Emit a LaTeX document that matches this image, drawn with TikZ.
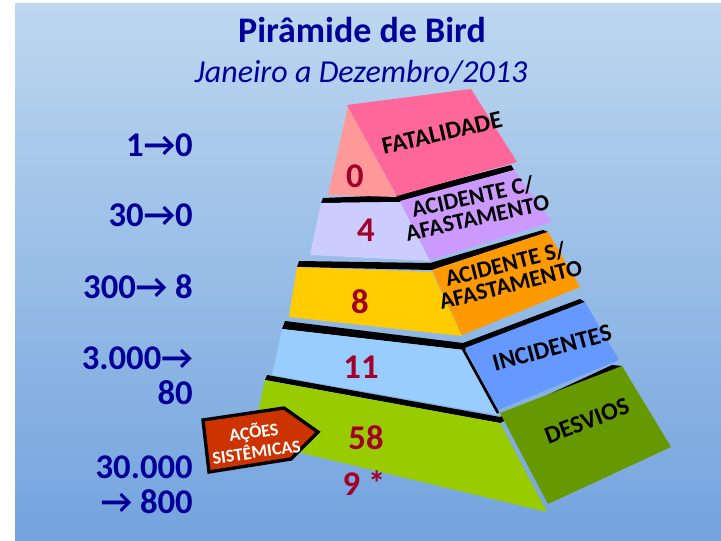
\documentclass[tikz,border=0pt]{standalone}
\usepackage{fontspec}
\setmainfont{Carlito}
\definecolor{bgtop}{HTML}{BDD7EF}
\definecolor{bgbot}{HTML}{73A3DE}
\definecolor{navy}{HTML}{000099}
\definecolor{numred}{HTML}{A0002A}
\definecolor{acred}{HTML}{CC3300}

\tikzstyle{band}=[fill=black]
\tikzstyle{tally}=[
    inner sep=0pt,
    text=numred,
    font=\bfseries\fontsize{26}{26}\selectfont
]
\tikzstyle{ratiotext}=[
    anchor=east,
    align=right,
    inner sep=0pt,
    text=navy,
    font=\bfseries\fontsize{26}{26}\selectfont
]
\tikzstyle{sidetext}=[
    align=center,
    inner sep=0pt,
    text=black,
    font=\bfseries\fontsize{18.5}{20}\selectfont
]
\tikzstyle{sidesmall}=[
    sidetext,
    font=\bfseries\fontsize{17.5}{16}\selectfont
]

\begin{document}
\begin{tikzpicture}[x=0.75pt,y=-0.75pt]
	\useasboundingbox (0,0) rectangle (721,541);
	\fill[top color=bgtop, bottom color=bgbot] (15,4) rectangle (721,541);

	% TITLE
	\node (title) [text=navy, font=\bfseries\fontsize{27}{30}\selectfont] at (362,30) {Pirâmide de Bird};
	\node (period) [text=navy, font=\itshape\fontsize{24}{28}\selectfont] at (361,72) {Janeiro a Dezembro/2013};

	% BLACK BANDS (top faces)
	\fill[band] (323,198) -- (397,195) -- (511,165) -- (514,170) -- (400,202) -- (321,203) -- cycle;
	\fill[band] (299,261) -- (430,263) -- (543,230) -- (548,232) -- (432,270) -- (297,267) -- cycle;
	\fill[band] (285,321) -- (463,343) -- (580,299) -- (585,302) -- (465,350) -- (282,329) -- cycle;
	\fill[band] (267,375) -- (500,417) -- (612,365) -- (622,366) -- (500,423) -- (265,380) -- cycle;

	% FATALIDADE LAYER
	\fill[fill={rgb,255:red,255;green,153;blue,153}] (348,106) -- (397,197) -- (328,195) -- cycle;
	\fill[fill={rgb,255:red,255;green,102;blue,153}] (347,105) -- (471,89) -- (517,162) -- (397,196) -- cycle;
	% ACIDENTE C/ AFASTAMENTO LAYER
	\fill[fill={rgb,255:red,204;green,204;blue,255}] (321,203) -- (400,202) -- (430,261) -- (310,255) -- cycle;
	\fill[fill={rgb,255:red,204;green,153;blue,255}] (400,201) -- (514,170) -- (552,222) -- (430,260) -- cycle;
	% ACIDENTE S/ AFASTAMENTO LAYER
	\fill[fill={rgb,255:red,255;green,204;blue,0}] (297,267) -- (432,272) -- (462,336) -- (289,317) -- cycle;
	\fill[fill={rgb,255:red,255;green,153;blue,0}] (432,270) -- (548,232) -- (580,287) -- (462,335) -- cycle;
	% INCIDENTES LAYER
	\fill[fill={rgb,255:red,153;green,204;blue,255}] (282,329) -- (463,350) -- (498,415) -- (272,375) -- cycle;
	\fill[fill={rgb,255:red,102;green,153;blue,255}] (465,348) -- (585,302) -- (619,360) -- (498,410) -- cycle;
	\draw[line width=2pt] (463,349) -- (498,413);
	% DESVIOS LAYER
	\fill[fill={rgb,255:red,153;green,204;blue,0}] (265,380) -- (500,423) -- (547,512) -- (252,441) -- cycle;
	\fill[fill={rgb,255:red,102;green,153;blue,0}] (500,413) -- (622,366) -- (671,447) -- (548,504) -- cycle;

	% COUNTS
	\node (n_fat) [tally] at (355,176) {0};
	\node (n_acc) [tally] at (366,230) {4};
	\node (n_acs) [tally] at (360,302) {8};
	\node (n_inc) [tally] at (361,367) {11};
	\node (n_des) [tally] at (366,438) {58};
	\node (n_act) [tally] at (364,483) {9 *};

	% SIDE LABELS
	\node (l_fat) [sidetext, rotate=13] at (442,133) {FATALIDADE};
	\node (l_acc) [sidesmall, rotate=12.5] at (475,207) {ACIDENTE C/\\AFASTAMENTO};
	\node (l_acs) [sidesmall, rotate=14] at (508,274) {ACIDENTE S/\\AFASTAMENTO};
	\node (l_inc) [sidetext, rotate=15] at (552,348) {INCIDENTES};
	\node (l_des) [sidetext, rotate=21] at (587,421) {DESVIOS};

	% RATIOS
	\node (r_fat) [ratiotext] at (193,145) {1→0};
	\node (r_acc) [ratiotext] at (193,215) {30→0};
	\node (r_acs) [ratiotext] at (193,287) {300→ 8};
	\node (r_inc) [ratiotext] at (193,376) {3.000→\\80};
	\node (r_des) [ratiotext] at (193,485) {30.000\\→ 800};

	% ACOES SISTEMICAS
	\filldraw[fill=acred, draw=black, line width=2.5pt, line join=miter]
		(203,420) -- (284,408) -- (318,432) -- (291,459) -- (209,472) -- cycle;
	\node (acoes) [align=center, inner sep=0pt, text=white, rotate=8,
		font=\bfseries\fontsize{13.5}{15}\selectfont] at (255,441) {AÇÕES\\SISTÊMICAS};
\end{tikzpicture}
\end{document}
